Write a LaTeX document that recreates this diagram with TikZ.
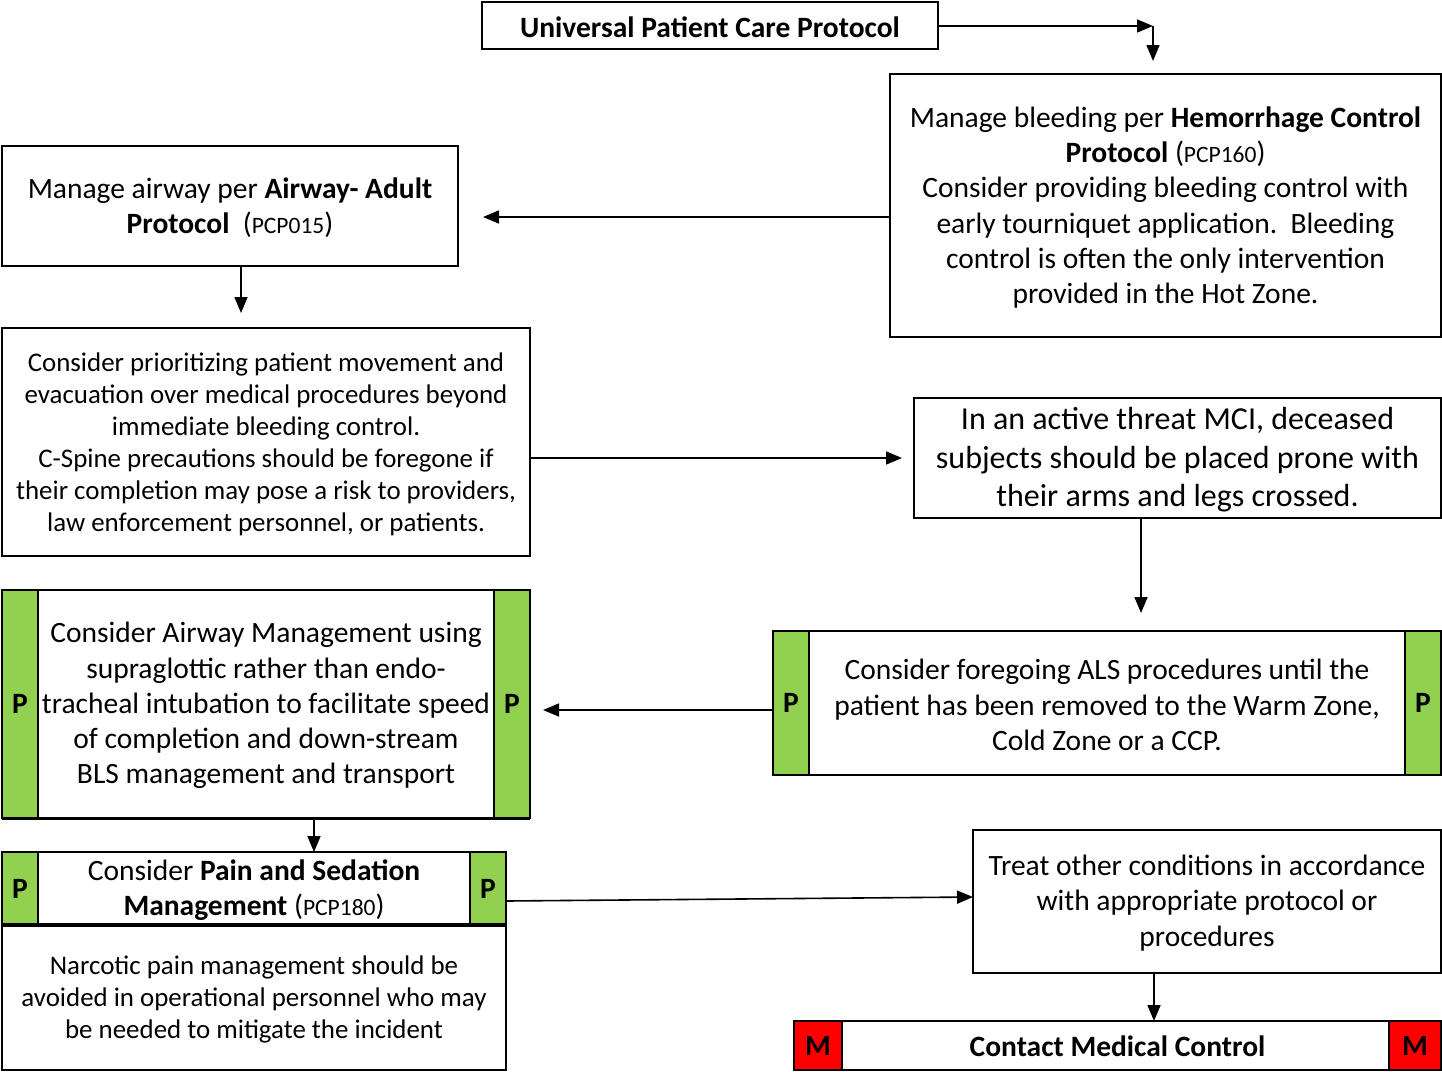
\documentclass[tikz,border=0pt]{standalone}
\usepackage{fontspec}
\setmainfont{Carlito}
\usetikzlibrary{arrows.meta,calc}
\definecolor{pgreen}{HTML}{92D050}
\definecolor{mred}{HTML}{FF0000}
\newcommand{\bodyf}{\fontsize{29.5}{35.2}\selectfont}
\newcommand{\smallf}{\fontsize{26.9}{32}\selectfont}
\newcommand{\largef}{\fontsize{32}{38.5}\selectfont}
\newcommand{\codef}{\fontsize{23.5}{28}\selectfont}
\begin{document}
\begin{tikzpicture}[x=1pt,y=-1pt,
  box/.style={draw=black,line width=2pt,fill=white,inner sep=0pt,outer sep=0pt},
  txt/.style={inner sep=0pt,outer sep=0pt,align=center,font=\bodyf},
  pband/.style={draw=black,line width=2pt,fill=pgreen,inner sep=0pt,outer sep=0pt,font=\bodyf\bfseries},
  mband/.style={draw=black,line width=2pt,fill=mred,inner sep=0pt,outer sep=0pt,font=\bodyf\bfseries},
  arr/.style={line width=1.6pt,-{Triangle[length=16pt,width=13pt]}}]
\useasboundingbox (0,0) rectangle (1442,1071);
\fill[white] (0,0) rectangle (1442,1071);

% Universal Patient Care Protocol
\node[box,minimum width=456pt,minimum height=47pt] (upcp) at (710,25.5) {};
\node[txt,font=\bodyf\bfseries] (upcpt) at ([yshift=-1.5pt]upcp.center) {Universal Patient Care Protocol};

% Hemorrhage
\node[box,minimum width=551pt,minimum height=263pt] (hem) at (1165.5,205.5) {};
\node[txt] (hemt) at ([yshift=-2pt]hem.center)
{Manage bleeding per \textbf{Hemorrhage Control}\\
\textbf{Protocol} ({\codef PCP160})\\
Consider providing bleeding control with\\
early tourniquet application.\ \ Bleeding\\
control is often the only intervention\\
provided in the Hot Zone.};

% Airway adult
\node[box,minimum width=456pt,minimum height=120pt] (air) at (230,206) {};
\node[txt] (airt) at ([yshift=-1.5pt]air.center)
{Manage airway per \textbf{Airway- Adult}\\
\textbf{Protocol}\ \ ({\codef PCP015})};

% Prioritizing
\node[box,minimum width=528pt,minimum height=228pt] (prio) at (266,442) {};
\node[txt,font=\smallf] (priot) at ([yshift=-2pt]prio.center)
{Consider prioritizing patient movement and\\
evacuation over medical procedures beyond\\
immediate bleeding control.\\
C-Spine precautions should be foregone if\\
their completion may pose a risk to providers,\\
law enforcement personnel, or patients.};

% MCI
\node[box,minimum width=527pt,minimum height=120pt] (mci) at (1177.5,458) {};
\node[txt,font=\largef] (mcit) at ([yshift=-2pt]mci.center)
{In an active threat MCI, deceased\\
subjects should be placed prone with\\
their arms and legs crossed.};

% ALS
\node[box,minimum width=668pt,minimum height=144pt] (als) at (1107,703) {};
\node[pband,anchor=north west,minimum width=36pt,minimum height=144pt] (alsL) at (als.north west) {P};
\node[pband,anchor=north east,minimum width=36pt,minimum height=144pt] (alsR) at (als.north east) {P};
\node[txt] (alst) at ([yshift=-2pt]als.center)
{Consider foregoing ALS procedures until the\\
patient has been removed to the Warm Zone,\\
Cold Zone or a CCP.};

% Airway management (P)
\node[box,minimum width=528pt,minimum height=228pt] (am) at (266,704) {};
\node[pband,anchor=north west,minimum width=36pt,minimum height=228pt] (amL) at (am.north west) {P};
\node[pband,anchor=north east,minimum width=36pt,minimum height=228pt] (amR) at (am.north east) {P};
\draw[line width=3pt] (am.south west) -- (am.south east);
\node[txt] (amt) at ([yshift=-1.5pt]am.center)
{Consider Airway Management using\\
supraglottic rather than endo-\\
tracheal intubation to facilitate speed\\
of completion and down-stream\\
BLS management and transport};

% Pain and sedation
\node[box,minimum width=504pt,minimum height=73pt] (pain) at (254,888.5) {};
\node[pband,anchor=north west,minimum width=36pt,minimum height=73pt] (painL) at (pain.north west) {P};
\node[pband,anchor=north east,minimum width=36pt,minimum height=73pt] (painR) at (pain.north east) {P};
\node[txt] (paint) at ([yshift=-1.5pt]pain.center)
{Consider \textbf{Pain and Sedation}\\
\textbf{Management} ({\codef PCP180})};

% Narcotic
\node[box,minimum width=504pt,minimum height=145pt] (narc) at (254,997.5) {};
\draw[line width=3.5pt] (narc.north west) -- (narc.north east);
\node[txt,font=\smallf] (narct) at ([yshift=-2pt]narc.center)
{Narcotic pain management should be\\
avoided in operational personnel who may\\
be needed to mitigate the incident};

% Treat other
\node[box,minimum width=468pt,minimum height=143pt] (treat) at (1207,901.5) {};
\node[txt] (treatt) at ([yshift=-1.5pt]treat.center)
{Treat other conditions in accordance\\
with appropriate protocol or\\
procedures};

% Contact medical control
\node[box,minimum width=647pt,minimum height=49pt] (cmc) at (1117.5,1045.5) {};
\node[mband,anchor=north west,minimum width=48pt,minimum height=49pt] (cmcL) at (cmc.north west) {M};
\node[mband,anchor=north east,minimum width=52pt,minimum height=49pt] (cmcR) at (cmc.north east) {M};
\node[txt,font=\bodyf\bfseries] (cmct) at ([yshift=-1pt]cmc.center) {Contact Medical Control};

% connectors
\coordinate (corner) at (1153,26);
\coordinate (hemin) at (1153,61);
\draw[arr] (upcp.east |- corner) -- (corner);
\draw[arr] (corner) -- (hemin);

\coordinate (airin) at (483,217);
\draw[arr] (hem.west |- airin) -- (airin);

\coordinate (prioin) at (241,313);
\draw[arr] (air.south -| prioin) -- (prioin);

\coordinate (mciin) at (902,458);
\draw[arr] (prio.east |- mciin) -- (mciin);

\coordinate (alsin) at (1141,613);
\draw[arr] (mci.south -| alsin) -- (alsin);

\coordinate (amin) at (543,710);
\draw[arr] (als.west |- amin) -- (amin);

\coordinate (painin) at (314,852);
\draw[arr] (am.south -| painin) -- (painin);

\coordinate (painout) at (506,901);
\coordinate (treatin) at (973,897);
\draw[arr] (painout) -- (treatin);

\coordinate (cmcin) at (1154,1021);
\draw[arr] (treat.south -| cmcin) -- (cmcin);
\end{tikzpicture}
\end{document}
